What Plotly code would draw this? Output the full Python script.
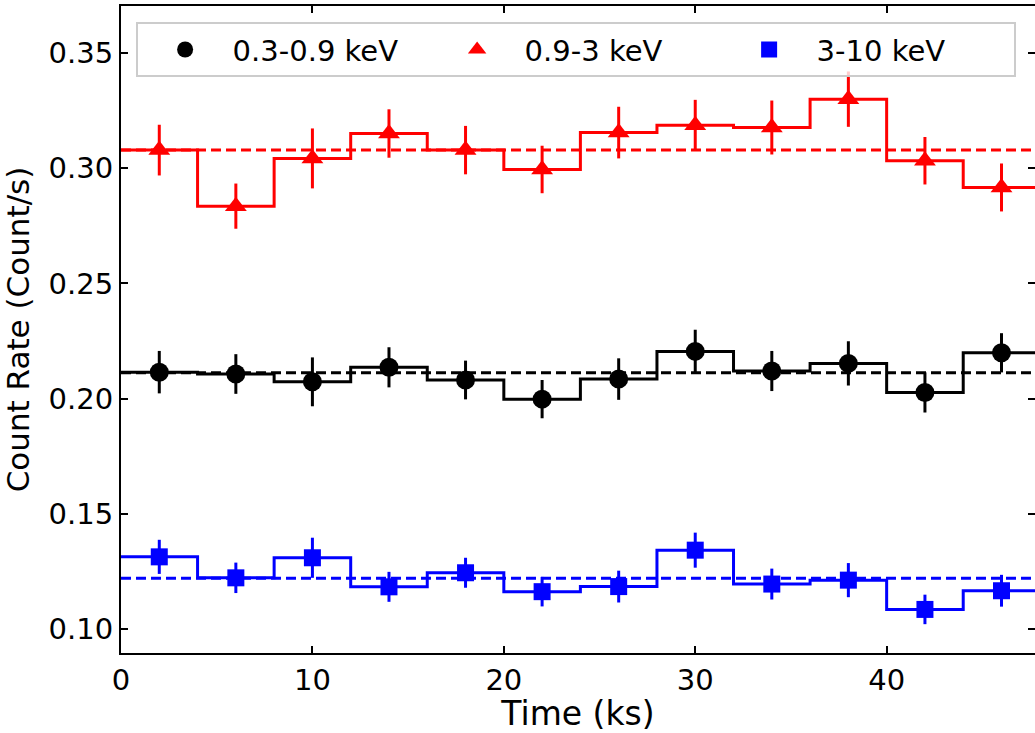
import plotly.graph_objects as go

# ---- data ----
time_centers = [2, 6, 10, 14, 18, 22, 26, 30, 34, 38, 42, 46]  # ks
bin_width = 4.0

soft_rate = [0.2115, 0.2107, 0.2073, 0.2136, 0.2081, 0.1998, 0.2085, 0.2205, 0.2120, 0.2153, 0.2027, 0.2199]
soft_err = [0.0092, 0.0086, 0.0106, 0.0087, 0.0084, 0.0083, 0.0090, 0.0094, 0.0087, 0.0096, 0.0087, 0.0085]
soft_mean = 0.2112

mid_rate = [0.3078, 0.2835, 0.3042, 0.3150, 0.3078, 0.2994, 0.3154, 0.3186, 0.3176, 0.3299, 0.3032, 0.2916]
mid_err = [0.0110, 0.0098, 0.0130, 0.0105, 0.0105, 0.0103, 0.0112, 0.0110, 0.0117, 0.0120, 0.0103, 0.0104]
mid_mean = 0.3078

hard_rate = [0.1314, 0.1223, 0.1310, 0.1184, 0.1245, 0.1163, 0.1185, 0.1343, 0.1196, 0.1213, 0.1086, 0.1167]
hard_err = [0.0074, 0.0066, 0.0087, 0.0065, 0.0065, 0.0064, 0.0069, 0.0076, 0.0067, 0.0074, 0.0064, 0.0069]
hard_mean = 0.1221

labels = ["0.3-0.9 keV", "0.9-3 keV", "3-10 keV"]
colors = ["black", "#ff0000", "#0000ff"]
symbols = ["circle", "triangle-up", "square"]
sizes = [19, 19, 17]

FONT = "DejaVu Sans, Liberation Sans, sans-serif"

series = [
    (soft_rate, soft_err, soft_mean),
    (mid_rate, mid_err, mid_mean),
    (hard_rate, hard_err, hard_mean),
]

half = bin_width / 2
edges = [c - half for c in time_centers] + [time_centers[-1] + half]

fig = go.Figure()

for (rate, err, mean), lab, col, sym, sz in zip(series, labels, colors, symbols, sizes):
    # step histogram
    fig.add_trace(go.Scatter(
        x=edges, y=list(rate) + [rate[-1]], mode="lines",
        line=dict(color=col, width=3, shape="hv"),
        showlegend=False, hoverinfo="skip",
    ))
    # mean dashed line
    fig.add_hline(y=mean, line=dict(color=col, width=3, dash="10px,5px"), layer="above")

for (rate, err, mean), lab, col, sym, sz in zip(series, labels, colors, symbols, sizes):
    fig.add_trace(go.Scatter(
        x=time_centers, y=rate, mode="markers", name=lab,
        marker=dict(color=col, symbol=sym, size=sz, line=dict(width=0)),
        error_y=dict(type="data", array=err, visible=True, color=col, thickness=3, width=0),
    ))

axis_common = dict(
    showline=True, linecolor="black", linewidth=2, mirror="ticks",
    ticks="inside", ticklen=7, tickwidth=2, tickcolor="black",
    showgrid=False, zeroline=False, automargin=False,
    tickfont=dict(family=FONT, size=29, color="black"),
)

fig.update_xaxes(
    range=[0, 47.75], tickvals=[0, 10, 20, 30, 40], ticktext=["0", "10", "20", "30", "40"],
    title=dict(text="Time (ks)", font=dict(family=FONT, size=33, color="black"), standoff=10),
    **axis_common,
)
fig.update_yaxes(
    range=[0.0897, 0.3703], tickvals=[0.10, 0.15, 0.20, 0.25, 0.30, 0.35],
    ticktext=["0.10", "0.15", "0.20", "0.25", "0.30", "0.35"],
    title=dict(text="Count Rate (Count/s)", font=dict(family=FONT, size=31, color="black"), standoff=12),
    **axis_common,
)

fig.update_layout(
    width=1035, height=733,
    margin=dict(l=121, r=0, t=6, b=80),
    paper_bgcolor="white", plot_bgcolor="white",
    font=dict(family=FONT, color="black"),
    legend=dict(
        orientation="h", x=0.016, y=0.975, xanchor="left", yanchor="top",
        bgcolor="rgba(255,255,255,0.8)", bordercolor="#cccccc", borderwidth=2,
        font=dict(family=FONT, size=29, color="black"),
        entrywidth=192, entrywidthmode="pixels", itemwidth=85,
        traceorder="normal",
    ),
)

fig.write_html("out.html", config={"displayModeBar": False},
               post_script="document.body.style.margin='0';")
